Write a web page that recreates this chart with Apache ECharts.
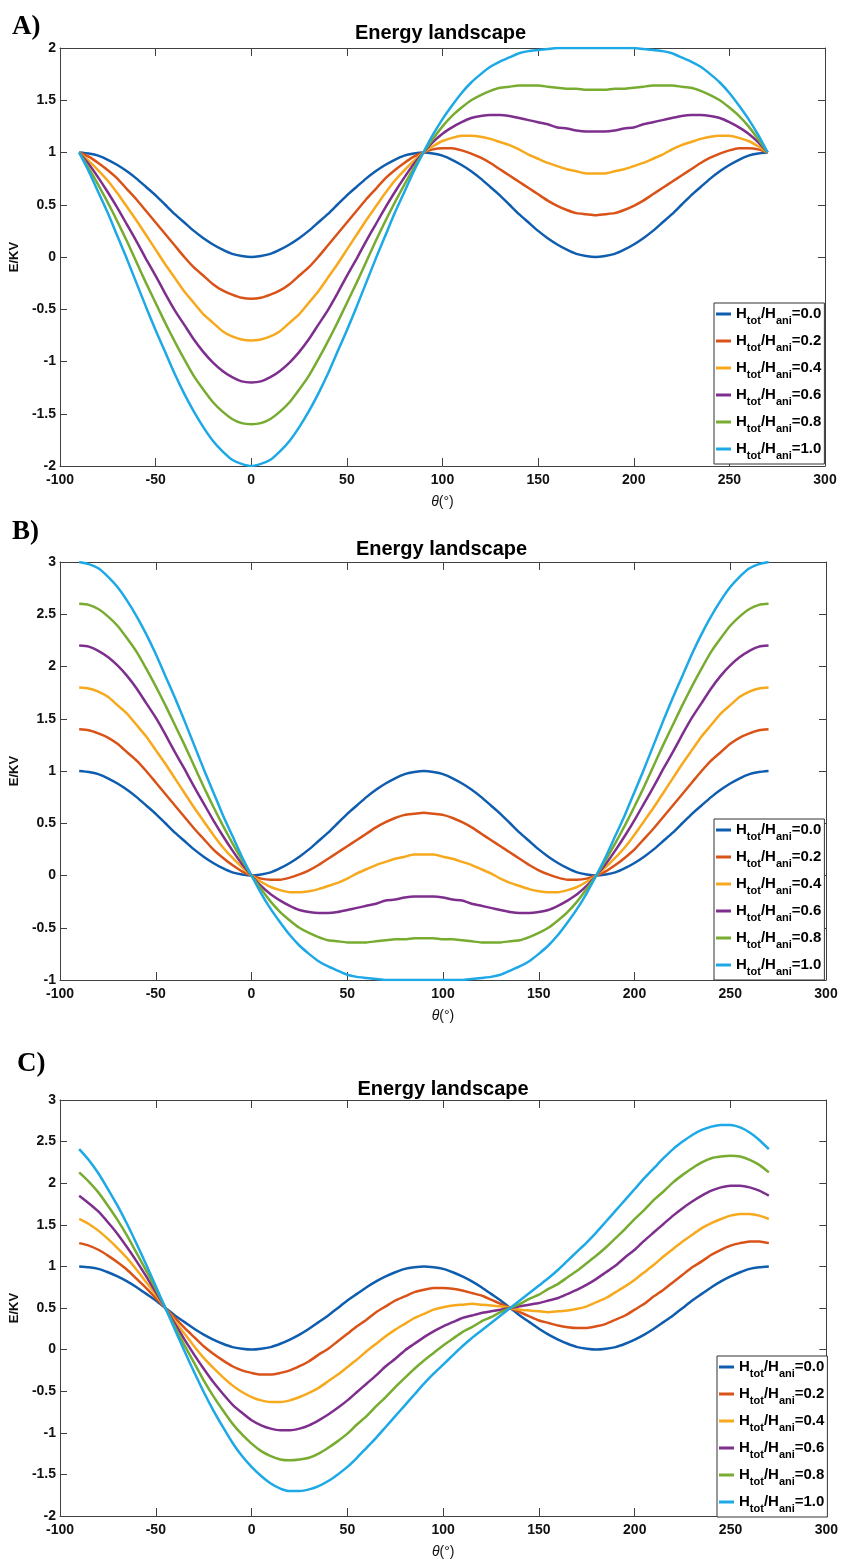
<!DOCTYPE html>
<html><head><meta charset="utf-8">
<script src="https://cdn.jsdelivr.net/npm/echarts@6/dist/echarts.min.js"></script>
<style>html,body{margin:0;padding:0;background:#fff}#c{width:841px;height:1560px}</style>
</head><body><div id="c"></div>
<script>
// ---------- data ----------
const theta = [-90,-85,-80,-75,-70,-65,-60,-55,-50,-45,-40,-35,-30,-25,-20,-15,-10,-5,0,5,10,15,20,25,30,35,40,45,50,55,60,65,70,75,80,85,90,95,100,105,110,115,120,125,130,135,140,145,150,155,160,165,170,175,180,185,190,195,200,205,210,215,220,225,230,235,240,245,250,255,260,265,270];
const ratioLabels = ['0.0','0.2','0.4','0.6','0.8','1.0'];
const xTickLabels = [-100,-50,0,50,100,150,200,250,300];

// Panel A
const a00 = [1,.99,.97,.93,.88,.82,.75,.67,.59,.50,.41,.33,.25,.18,.12,.07,.03,.01,0,.01,.03,.07,.12,.18,.25,.33,.41,.50,.59,.67,.75,.82,.88,.93,.97,.99,1,.99,.97,.93,.88,.82,.75,.67,.59,.50,.41,.33,.25,.18,.12,.07,.03,.01,0,.01,.03,.07,.12,.18,.25,.33,.41,.50,.59,.67,.75,.82,.88,.93,.97,.99,1];
const a02 = [1,.96,.90,.83,.75,.65,.55,.44,.33,.22,.11,.00,-.10,-.18,-.26,-.32,-.36,-.39,-.40,-.39,-.36,-.32,-.26,-.18,-.10,.00,.11,.22,.33,.44,.55,.65,.75,.83,.90,.96,1,1.03,1.04,1.04,1.02,.99,.95,.90,.84,.78,.72,.66,.60,.54,.49,.45,.42,.41,.40,.41,.42,.45,.49,.54,.60,.66,.72,.78,.84,.90,.95,.99,1.02,1.04,1.04,1.03,1];
const a04 = [1,.92,.83,.73,.61,.48,.35,.21,.07,-.07,-.20,-.33,-.44,-.55,-.63,-.71,-.76,-.79,-.80,-.79,-.76,-.71,-.63,-.55,-.44,-.33,-.20,-.07,.07,.21,.35,.48,.61,.73,.83,.92,1,1.06,1.11,1.14,1.16,1.16,1.15,1.13,1.10,1.07,1.03,.98,.94,.90,.87,.84,.82,.80,.80,.80,.82,.84,.87,.90,.94,.98,1.03,1.07,1.10,1.13,1.15,1.16,1.16,1.14,1.11,1.06,1];
const a06 = [1,.89,.76,.62,.47,.31,.15,-.02,-.18,-.35,-.51,-.65,-.79,-.91,-1.01,-1.09,-1.15,-1.19,-1.20,-1.19,-1.15,-1.09,-1.01,-.91,-.79,-.65,-.51,-.35,-.18,-.02,.15,.31,.47,.62,.76,.89,1,1.10,1.18,1.24,1.29,1.33,1.35,1.36,1.36,1.35,1.33,1.31,1.29,1.27,1.24,1.23,1.21,1.20,1.20,1.20,1.21,1.23,1.24,1.27,1.29,1.31,1.33,1.35,1.36,1.36,1.35,1.33,1.29,1.24,1.18,1.10,1];
const a08 = [1,.85,.69,.52,.34,.15,-.05,-.25,-.44,-.63,-.81,-.98,-1.14,-1.27,-1.39,-1.48,-1.55,-1.59,-1.60,-1.59,-1.55,-1.48,-1.39,-1.27,-1.14,-.98,-.81,-.63,-.44,-.25,-.05,.15,.34,.52,.69,.85,1,1.13,1.25,1.35,1.43,1.50,1.55,1.59,1.62,1.63,1.64,1.64,1.64,1.63,1.62,1.61,1.61,1.60,1.60,1.60,1.61,1.61,1.62,1.63,1.64,1.64,1.64,1.63,1.62,1.59,1.55,1.50,1.43,1.35,1.25,1.13,1];
const a10 = [1,.82,.62,.42,.20,-.02,-.25,-.48,-.70,-.91,-1.12,-1.31,-1.48,-1.63,-1.76,-1.86,-1.94,-1.98,-2,-1.98,-1.94,-1.86,-1.76,-1.63,-1.48,-1.31,-1.12,-.91,-.70,-.48,-.25,-.02,.20,.42,.62,.82,1,1.17,1.32,1.45,1.57,1.67,1.75,1.82,1.87,1.91,1.95,1.97,1.98,1.99,2.00,2.00,2.00,2.00,2,2.00,2.00,2.00,2.00,1.99,1.98,1.97,1.95,1.91,1.87,1.82,1.75,1.67,1.57,1.45,1.32,1.17,1];

// Panel B
const b00 = [1,.99,.97,.93,.88,.82,.75,.67,.59,.50,.41,.33,.25,.18,.12,.07,.03,.01,0,.01,.03,.07,.12,.18,.25,.33,.41,.50,.59,.67,.75,.82,.88,.93,.97,.99,1,.99,.97,.93,.88,.82,.75,.67,.59,.50,.41,.33,.25,.18,.12,.07,.03,.01,0,.01,.03,.07,.12,.18,.25,.33,.41,.50,.59,.67,.75,.82,.88,.93,.97,.99,1];
const b02 = [1.40,1.39,1.36,1.32,1.26,1.18,1.10,1.00,.89,.78,.67,.56,.45,.35,.25,.17,.10,.04,0,-.03,-.04,-.04,-.02,.01,.05,.10,.16,.22,.28,.34,.40,.46,.51,.55,.58,.59,.60,.59,.58,.55,.51,.46,.40,.34,.28,.22,.16,.10,.05,.01,-.02,-.04,-.04,-.03,0,.04,.10,.17,.25,.35,.45,.56,.67,.78,.89,1.00,1.10,1.18,1.26,1.32,1.36,1.39,1.40];
const b04 = [1.80,1.79,1.76,1.71,1.63,1.55,1.44,1.33,1.20,1.07,.93,.79,.65,.52,.39,.27,.17,.08,0,-.06,-.11,-.14,-.16,-.16,-.15,-.13,-.10,-.07,-.03,.02,.06,.10,.13,.16,.18,.20,.20,.20,.18,.16,.13,.10,.06,.02,-.03,-.07,-.10,-.13,-.15,-.16,-.16,-.14,-.11,-.06,0,.08,.17,.27,.39,.52,.65,.79,.93,1.07,1.20,1.33,1.44,1.55,1.63,1.71,1.76,1.79,1.80];
const b06 = [2.20,2.19,2.15,2.09,2.01,1.91,1.79,1.65,1.51,1.35,1.18,1.02,.85,.69,.53,.38,.24,.11,0,-.10,-.18,-.24,-.29,-.33,-.35,-.36,-.36,-.35,-.33,-.31,-.29,-.27,-.24,-.23,-.21,-.20,-.20,-.20,-.21,-.23,-.24,-.27,-.29,-.31,-.33,-.35,-.36,-.36,-.35,-.33,-.29,-.24,-.18,-.10,0,.11,.24,.38,.53,.69,.85,1.02,1.18,1.35,1.51,1.65,1.79,1.91,2.01,2.09,2.15,2.19,2.20];
const b08 = [2.60,2.59,2.55,2.48,2.39,2.27,2.14,1.98,1.81,1.63,1.44,1.25,1.05,.85,.66,.48,.31,.15,0,-.13,-.25,-.35,-.43,-.50,-.55,-.59,-.62,-.63,-.64,-.64,-.64,-.63,-.62,-.61,-.61,-.60,-.60,-.60,-.61,-.61,-.62,-.63,-.64,-.64,-.64,-.63,-.62,-.59,-.55,-.50,-.43,-.35,-.25,-.13,0,.15,.31,.48,.66,.85,1.05,1.25,1.44,1.63,1.81,1.98,2.14,2.27,2.39,2.48,2.55,2.59,2.60];
const b10 = [3,2.98,2.94,2.86,2.76,2.63,2.48,2.31,2.12,1.91,1.70,1.48,1.25,1.02,.80,.58,.38,.18,0,-.17,-.32,-.45,-.57,-.67,-.75,-.82,-.87,-.91,-.95,-.97,-.98,-.99,-1.00,-1.00,-1.00,-1.00,-1,-1.00,-1.00,-1.00,-1.00,-.99,-.98,-.97,-.95,-.91,-.87,-.82,-.75,-.67,-.57,-.45,-.32,-.17,0,.18,.38,.58,.80,1.02,1.25,1.48,1.70,1.91,2.12,2.31,2.48,2.63,2.76,2.86,2.94,2.98,3];

// Panel C
const c00 = [1,.99,.97,.93,.88,.82,.75,.67,.59,.50,.41,.33,.25,.18,.12,.07,.03,.01,0,.01,.03,.07,.12,.18,.25,.33,.41,.50,.59,.67,.75,.82,.88,.93,.97,.99,1,.99,.97,.93,.88,.82,.75,.67,.59,.50,.41,.33,.25,.18,.12,.07,.03,.01,0,.01,.03,.07,.12,.18,.25,.33,.41,.50,.59,.67,.75,.82,.88,.93,.97,.99,1];
const c02 = [1.28,1.25,1.20,1.13,1.05,.96,.85,.74,.62,.50,.38,.26,.15,.04,-.05,-.13,-.20,-.25,-.28,-.30,-.30,-.28,-.25,-.20,-.14,-.06,.01,.10,.19,.28,.36,.45,.52,.59,.64,.69,.72,.74,.74,.73,.71,.68,.65,.60,.55,.50,.45,.40,.35,.32,.29,.27,.26,.26,.28,.31,.36,.41,.48,.55,.64,.72,.81,.90,.99,1.06,1.14,1.20,1.25,1.28,1.30,1.30,1.28];
const c04 = [1.57,1.51,1.43,1.33,1.22,1.10,.96,.81,.66,.50,.34,.19,.04,-.10,-.22,-.33,-.43,-.51,-.57,-.61,-.63,-.63,-.61,-.57,-.52,-.46,-.38,-.30,-.21,-.12,-.02,.07,.16,.24,.31,.38,.43,.48,.51,.53,.54,.55,.54,.53,.52,.50,.48,.47,.46,.45,.46,.47,.49,.52,.57,.62,.69,.76,.84,.93,1.02,1.12,1.21,1.30,1.38,1.46,1.52,1.57,1.61,1.63,1.63,1.61,1.57];
const c06 = [1.85,1.76,1.66,1.53,1.39,1.23,1.06,.88,.69,.50,.31,.12,-.06,-.23,-.39,-.53,-.66,-.76,-.85,-.91,-.95,-.97,-.97,-.95,-.91,-.85,-.78,-.70,-.61,-.51,-.41,-.31,-.20,-.11,-.01,.07,.15,.22,.28,.33,.38,.41,.44,.46,.48,.50,.52,.54,.56,.59,.62,.67,.72,.78,.85,.93,1.01,1.11,1.20,1.31,1.41,1.51,1.61,1.70,1.78,1.85,1.91,1.95,1.97,1.97,1.95,1.91,1.85];
const c08 = [2.13,2.02,1.89,1.73,1.56,1.37,1.16,.95,.73,.50,.27,.05,-.16,-.37,-.56,-.73,-.89,-1.02,-1.13,-1.22,-1.28,-1.32,-1.33,-1.32,-1.30,-1.25,-1.18,-1.10,-1.01,-.90,-.80,-.68,-.57,-.45,-.34,-.23,-.13,-.04,.05,.13,.21,.27,.34,.39,.45,.50,.55,.61,.66,.73,.79,.87,.95,1.04,1.13,1.23,1.34,1.45,1.57,1.68,1.80,1.90,2.01,2.10,2.18,2.25,2.30,2.32,2.33,2.32,2.28,2.22,2.13];
const c10 = [2.41,2.28,2.12,1.93,1.73,1.51,1.27,1.02,.76,.50,.24,-.02,-.27,-.51,-.73,-.93,-1.12,-1.28,-1.41,-1.52,-1.61,-1.67,-1.70,-1.70,-1.68,-1.64,-1.58,-1.50,-1.41,-1.30,-1.18,-1.06,-.93,-.80,-.67,-.54,-.41,-.29,-.18,-.07,.04,.14,.23,.32,.41,.50,.59,.68,.77,.86,.96,1.07,1.18,1.29,1.41,1.54,1.67,1.80,1.93,2.06,2.18,2.30,2.41,2.50,2.58,2.64,2.68,2.70,2.70,2.67,2.61,2.52,2.41];

const yRangeA = [-2, 2, 0.5];
const yRangeB = [-1, 3, 0.5];
const yRangeC = [-2, 3, 0.5];

// ---------- styles / layout ----------
const F = '"Liberation Sans", Arial, Helvetica, sans-serif';
const SERIF = '"Liberation Serif", "Times New Roman", serif';
const colors = ['#0F5DAE','#D95319','#F7A91D','#7E2F8E','#77AC30','#1DA8E6'];
const axisColor = '#404040';

const panels = [
  {letter:'A)', letterPos:[12,14], titleTop:23, grid:{left:56, top:48, width:769, height:418}, y:yRangeA, legend:{left:714, top:303}, data:[a00,a02,a04,a06,a08,a10]},
  {letter:'B)', letterPos:[12,519], titleTop:539, grid:{left:57, top:562, width:769, height:418}, y:yRangeB, legend:{left:714, top:819}, data:[b00,b02,b04,b06,b08,b10]},
  {letter:'C)', letterPos:[17,1051], titleTop:1079, grid:{left:59, top:1100, width:768, height:417}, y:yRangeC, legend:{left:717, top:1356}, data:[c00,c02,c04,c06,c08,c10]}
];

const seriesNames = ratioLabels.map(r => 'Htot/Hani=' + r);

const option = {
  animation: false,
  backgroundColor: '#fff',
  color: colors,
  title: [], grid: [], xAxis: [], yAxis: [], legend: [], series: []
};

panels.forEach((p, i) => {
  option.title.push({
    text: 'Energy landscape', left: p.grid.left + p.grid.width / 2, top: p.titleTop, textAlign: 'center', padding: 0,
    textStyle: {fontFamily: F, fontSize: 20, fontWeight: 'bold', color: '#000'}
  });
  option.title.push({
    text: p.letter, left: p.letterPos[0], top: p.letterPos[1], padding: 0,
    textStyle: {fontFamily: SERIF, fontSize: 27, fontWeight: 'bold', color: '#000'}
  });
  option.grid.push(Object.assign({containLabel: false}, p.grid));
  const xCommon = {
    type: 'value', gridIndex: i, min: xTickLabels[0], max: xTickLabels[xTickLabels.length - 1], interval: 50,
    axisLine: {show: true, onZero: false, lineStyle: {color: axisColor, width: 1}},
    axisTick: {show: true, inside: true, length: 8, lineStyle: {color: axisColor}},
    splitLine: {show: false}
  };
  option.xAxis.push(Object.assign({}, xCommon, {
    position: 'bottom',
    axisLabel: {show: true, margin: 7, fontFamily: F, fontSize: 14, fontWeight: 'bold', color: '#111'},
    name: '{i|θ}(°)', nameLocation: 'middle', nameGap: 29,
    nameTextStyle: {fontFamily: F, fontSize: 14, color: '#111', rich: {i: {fontFamily: F, fontSize: 14, fontStyle: 'italic', color: '#111'}}}
  }));
  option.xAxis.push(Object.assign({}, xCommon, {position: 'top', axisLabel: {show: false}}));
  const yCommon = {
    type: 'value', gridIndex: i, min: p.y[0], max: p.y[1], interval: p.y[2],
    axisLine: {show: true, onZero: false, lineStyle: {color: axisColor, width: 1}},
    axisTick: {show: true, inside: true, length: 7, lineStyle: {color: axisColor}},
    splitLine: {show: false}
  };
  option.yAxis.push(Object.assign({}, yCommon, {
    position: 'left',
    axisLabel: {show: true, margin: 4, fontFamily: F, fontSize: 14, fontWeight: 'bold', color: '#111'},
    name: 'E/KV', nameLocation: 'middle', nameGap: 33, nameRotate: 90,
    nameTextStyle: {fontFamily: F, fontSize: 13, fontWeight: 'bold', color: '#111'}
  }));
  option.yAxis.push(Object.assign({}, yCommon, {position: 'right', axisLabel: {show: false}}));

  option.legend.push({
    orient: 'vertical', left: p.legend.left, top: p.legend.top,
    data: seriesNames,
    icon: 'rect', itemWidth: 15, itemHeight: 3, itemGap: 7,
    padding: [3, 3, 3, 2],
    borderColor: '#333', borderWidth: 1, backgroundColor: '#fff',
    selectedMode: false,
    formatter: name => '{a|H}{s|tot}{a|/H}{s|ani}{a|=' + name.split('=')[1] + '}',
    textStyle: {
      rich: {
        a: {fontFamily: F, fontSize: 15, fontWeight: 'bold', color: '#000', lineHeight: 16, verticalAlign: 'top'},
        s: {fontFamily: F, fontSize: 11, fontWeight: 'bold', color: '#000', lineHeight: 12, padding: [9, 0, 0, 0], verticalAlign: 'top'}
      }
    }
  });

  p.data.forEach((vals, k) => {
    option.series.push({
      type: 'line', name: seriesNames[k], xAxisIndex: i * 2, yAxisIndex: i * 2,
      data: theta.map((t, j) => [t, vals[j]]),
      smooth: 0.2, symbol: 'none', showSymbol: false,
      lineStyle: {width: 2.5, color: colors[k]}, itemStyle: {color: colors[k]},
      z: 2
    });
  });
});

const chart = echarts.init(document.getElementById('c'), null, {renderer: 'canvas'});
chart.setOption(option);
</script></body></html>
